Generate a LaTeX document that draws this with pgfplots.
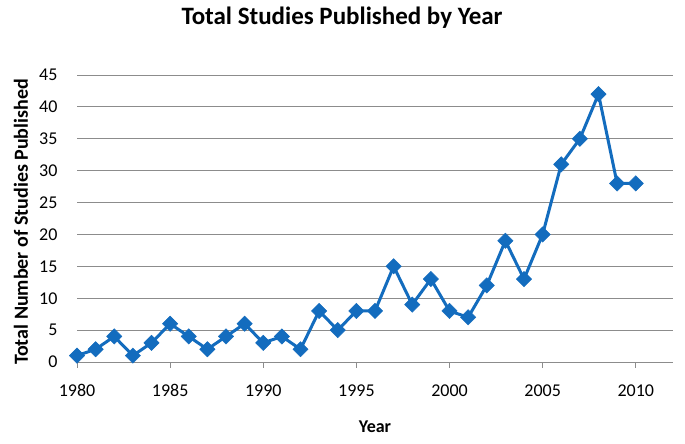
\documentclass[border=0pt]{standalone}
\usepackage{pgfplots}
\pgfplotsset{compat=1.18}
\usepackage{fontspec}
\setmainfont{Carlito}
\definecolor{ser}{HTML}{136CBE}
\definecolor{grd}{HTML}{8C8C8C}
\begin{document}
\begin{tikzpicture}[x=1pt,y=1pt]
\useasboundingbox (0,0) rectangle (685,444);
\fill[white] (0,0) rectangle (685,444);
\begin{axis}[
  at={(77pt,82pt)}, anchor=south west,
  scale only axis, width=596pt, height=287pt,
  xmin=1980, xmax=2012, ymin=0, ymax=45,
  xtick={1980,1985,...,2010}, ytick={0,5,...,45},
  axis y line=left, axis x line=bottom,
  axis line style={grd, -},
  y axis line style={draw=none},
  ymajorgrids, grid style={grd, line width=0.8pt},
  xtick style={grd, line width=0.8pt}, ytick style={draw=none},
  tick align=outside, major tick length=6pt,
  x tick label style={font=\fontsize{18}{20}\selectfont, yshift=-13pt},
  y tick label style={font=\fontsize{18}{20}\selectfont, xshift=-10pt},
  xticklabel={\pgfmathprintnumber[1000 sep=]{\tick}},
  /pgf/number format/assume math mode=true,
  /pgf/number format/1000 sep={},
  clip=false,
]
\addplot[color=ser, line width=3pt, mark=square*, mark size=5.4pt, mark options={solid, fill=ser, line width=0.5pt, rotate=45}] coordinates {
(1980,1)(1981,2)(1982,4)(1983,1)(1984,3)(1985,6)(1986,4)(1987,2)(1988,4)(1989,6)
(1990,3)(1991,4)(1992,2)(1993,8)(1994,5)(1995,8)(1996,8)(1997,15)(1998,9)(1999,13)
(2000,8)(2001,7)(2002,12)(2003,19)(2004,13)(2005,20)(2006,31)(2007,35)(2008,42)(2009,28)(2010,28)};
\end{axis}
\node[font=\fontsize{25}{30}\selectfont\bfseries] at (342,426) {Total Studies Published by Year};
\node[font=\fontsize{20}{24}\selectfont\bfseries, rotate=90] at (21,222) {Total Number of Studies Published};
\node[font=\fontsize{18}{22}\selectfont\bfseries] at (375,17) {Year};
\end{tikzpicture}
\end{document}
